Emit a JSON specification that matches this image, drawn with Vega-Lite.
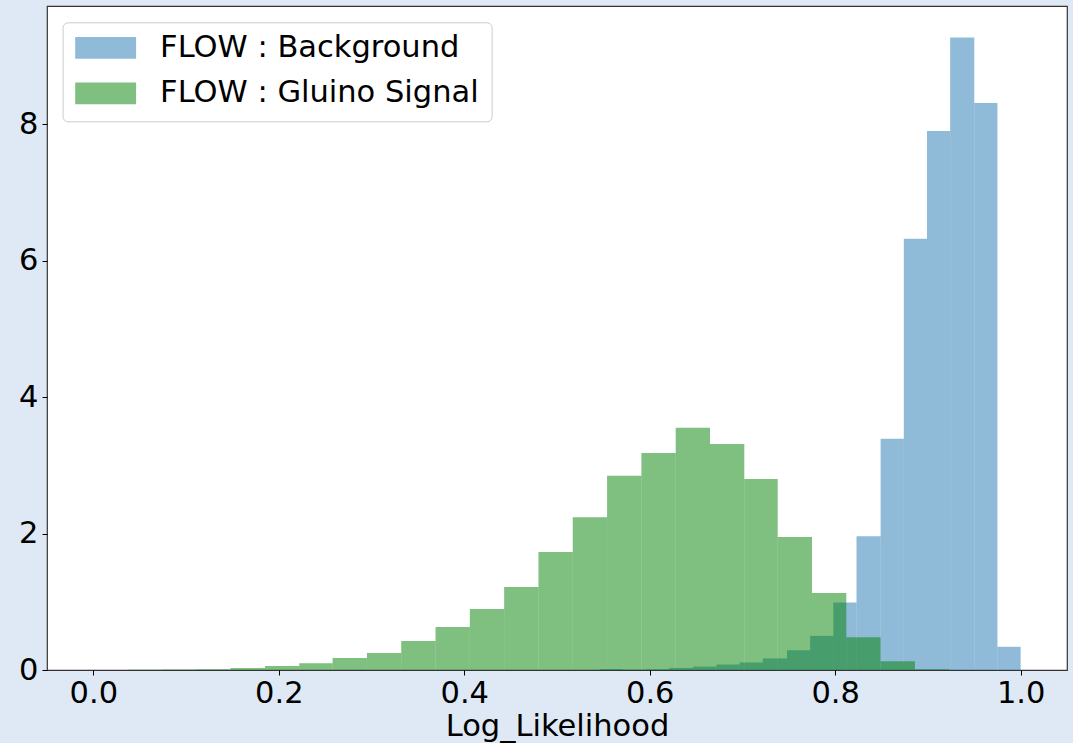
{
  "$schema": "https://vega.github.io/schema/vega-lite/v6.json",
  "width": 1020,
  "height": 664,
  "autosize": {"type": "none"},
  "padding": {"left": 47, "top": 6, "right": 6, "bottom": 73},
  "background": "#dee9f5",
  "config": {
    "font": "DejaVu Sans",
    "view": {"fill": "white", "stroke": "#333333", "strokeWidth": 1.2}
  },
  "data": {
    "values": [
      {"series": "FLOW : Background", "start": 0.546, "end": 0.571, "density": 0.015},
      {"series": "FLOW : Background", "start": 0.571, "end": 0.596, "density": 0.005},
      {"series": "FLOW : Background", "start": 0.596, "end": 0.621, "density": 0.01},
      {"series": "FLOW : Background", "start": 0.621, "end": 0.647, "density": 0.03},
      {"series": "FLOW : Background", "start": 0.647, "end": 0.672, "density": 0.05},
      {"series": "FLOW : Background", "start": 0.672, "end": 0.697, "density": 0.08},
      {"series": "FLOW : Background", "start": 0.697, "end": 0.722, "density": 0.11},
      {"series": "FLOW : Background", "start": 0.722, "end": 0.748, "density": 0.17},
      {"series": "FLOW : Background", "start": 0.748, "end": 0.773, "density": 0.29},
      {"series": "FLOW : Background", "start": 0.773, "end": 0.798, "density": 0.50},
      {"series": "FLOW : Background", "start": 0.798, "end": 0.823, "density": 0.99},
      {"series": "FLOW : Background", "start": 0.823, "end": 0.849, "density": 1.96},
      {"series": "FLOW : Background", "start": 0.849, "end": 0.874, "density": 3.39},
      {"series": "FLOW : Background", "start": 0.874, "end": 0.899, "density": 6.32},
      {"series": "FLOW : Background", "start": 0.899, "end": 0.924, "density": 7.90},
      {"series": "FLOW : Background", "start": 0.924, "end": 0.950, "density": 9.27},
      {"series": "FLOW : Background", "start": 0.950, "end": 0.975, "density": 8.31},
      {"series": "FLOW : Background", "start": 0.975, "end": 1.000, "density": 0.34},
      {"series": "FLOW : Gluino Signal", "start": 0.000, "end": 0.037, "density": 0.001},
      {"series": "FLOW : Gluino Signal", "start": 0.037, "end": 0.074, "density": 0.002},
      {"series": "FLOW : Gluino Signal", "start": 0.074, "end": 0.111, "density": 0.006},
      {"series": "FLOW : Gluino Signal", "start": 0.111, "end": 0.148, "density": 0.012},
      {"series": "FLOW : Gluino Signal", "start": 0.148, "end": 0.185, "density": 0.03},
      {"series": "FLOW : Gluino Signal", "start": 0.185, "end": 0.222, "density": 0.06},
      {"series": "FLOW : Gluino Signal", "start": 0.222, "end": 0.258, "density": 0.10},
      {"series": "FLOW : Gluino Signal", "start": 0.258, "end": 0.295, "density": 0.176},
      {"series": "FLOW : Gluino Signal", "start": 0.295, "end": 0.332, "density": 0.25},
      {"series": "FLOW : Gluino Signal", "start": 0.332, "end": 0.369, "density": 0.425},
      {"series": "FLOW : Gluino Signal", "start": 0.369, "end": 0.406, "density": 0.63},
      {"series": "FLOW : Gluino Signal", "start": 0.406, "end": 0.443, "density": 0.894},
      {"series": "FLOW : Gluino Signal", "start": 0.443, "end": 0.480, "density": 1.217},
      {"series": "FLOW : Gluino Signal", "start": 0.480, "end": 0.517, "density": 1.73},
      {"series": "FLOW : Gluino Signal", "start": 0.517, "end": 0.554, "density": 2.24},
      {"series": "FLOW : Gluino Signal", "start": 0.554, "end": 0.591, "density": 2.845},
      {"series": "FLOW : Gluino Signal", "start": 0.591, "end": 0.628, "density": 3.18},
      {"series": "FLOW : Gluino Signal", "start": 0.628, "end": 0.665, "density": 3.55},
      {"series": "FLOW : Gluino Signal", "start": 0.665, "end": 0.702, "density": 3.31},
      {"series": "FLOW : Gluino Signal", "start": 0.702, "end": 0.738, "density": 2.80},
      {"series": "FLOW : Gluino Signal", "start": 0.738, "end": 0.775, "density": 1.95},
      {"series": "FLOW : Gluino Signal", "start": 0.775, "end": 0.812, "density": 1.13},
      {"series": "FLOW : Gluino Signal", "start": 0.812, "end": 0.849, "density": 0.48},
      {"series": "FLOW : Gluino Signal", "start": 0.849, "end": 0.886, "density": 0.13},
      {"series": "FLOW : Gluino Signal", "start": 0.886, "end": 0.923, "density": 0.01}
    ]
  },
  "mark": {"type": "bar", "opacity": 0.5, "cornerRadius": 0},
  "encoding": {
    "x": {
      "field": "start",
      "type": "quantitative",
      "scale": {"domain": [-0.05, 1.05], "nice": false, "zero": false},
      "axis": {
        "title": "Log_Likelihood",
        "values": [0, 0.2, 0.4, 0.6, 0.8, 1.0],
        "format": ".1f",
        "grid": false,
        "domain": false,
        "labelFontSize": 30.5,
        "labelColor": "black",
        "labelPadding": 3,
        "tickSize": 5,
        "tickColor": "black",
        "tickWidth": 1,
        "titleFontSize": 30.5,
        "titleFontWeight": "normal",
        "titleColor": "black",
        "titlePadding": 3
      }
    },
    "x2": {"field": "end"},
    "y": {
      "field": "density",
      "type": "quantitative",
      "stack": null,
      "scale": {"domain": [0, 9.73], "nice": false},
      "axis": {
        "title": null,
        "values": [0, 2, 4, 6, 8],
        "grid": false,
        "domain": false,
        "labelFontSize": 30.5,
        "labelColor": "black",
        "labelPadding": 4,
        "tickSize": 5,
        "tickColor": "black",
        "tickWidth": 1
      }
    },
    "y2": {"datum": 0},
    "color": {
      "field": "series",
      "type": "nominal",
      "scale": {"domain": ["FLOW : Background", "FLOW : Gluino Signal"], "range": ["#1f77b4", "#008000"]},
      "legend": {
        "title": null,
        "orient": "none",
        "legendX": 15.6,
        "legendY": 16.3,
        "symbolType": "M-1,-0.355L1,-0.355L1,0.355L-1,0.355Z",
        "symbolSize": 3721,
        "symbolOpacity": 0.5,
        "symbolStrokeWidth": 0,
        "clipHeight": 26,
        "rowPadding": 14.5,
        "labelFontSize": 30.5,
        "labelLimit": 500,
        "labelColor": "black",
        "labelOffset": 24,
        "padding": 12.5,
        "cornerRadius": 5,
        "strokeColor": "#cccccc",
        "fillColor": "white"
      }
    },
    "order": {"field": "series"}
  }
}
